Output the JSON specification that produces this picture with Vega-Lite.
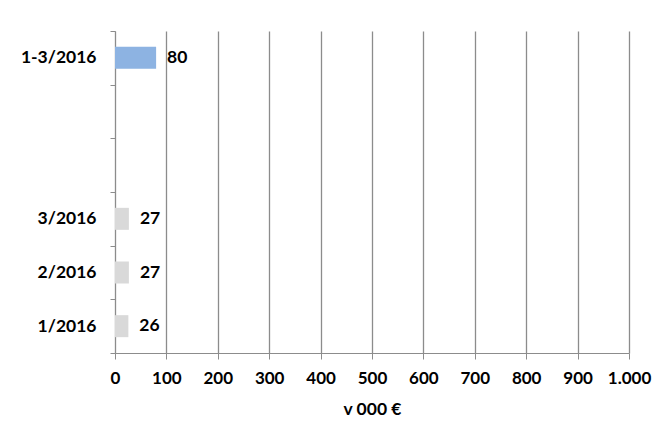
{
  "$schema": "https://vega.github.io/schema/vega-lite/v6.json",
  "autosize": "none",
  "padding": {"left": 115, "top": 31, "right": 40, "bottom": 88},
  "width": 514,
  "height": 322,
  "background": "white",
  "config": {
    "view": {"stroke": null},
    "font": "Lato"
  },
  "data": {
    "values": [
      {"period": "1-3/2016", "value": 80, "kind": "total"},
      {"period": "3/2016", "value": 27, "kind": "month"},
      {"period": "2/2016", "value": 27, "kind": "month"},
      {"period": "1/2016", "value": 26, "kind": "month"}
    ]
  },
  "encoding": {
    "y": {
      "field": "period",
      "type": "nominal",
      "scale": {"domain": ["1-3/2016", " ", "  ", "3/2016", "2/2016", "1/2016"], "padding": 0},
      "axis": {
        "title": null,
        "tickBand": "extent",
        "tickSize": 5,
        "tickColor": "#8c8c8c",
        "domainColor": "#8c8c8c",
        "labelPadding": 14,
        "labelFont": "Lato",
        "labelFontSize": 17.5,
        "labelFontWeight": "bold",
        "labelColor": "#000000",
        "grid": false
      }
    },
    "x": {
      "field": "value",
      "type": "quantitative",
      "scale": {"domain": [0, 1000], "nice": false},
      "axis": {
        "title": "v 000 €",
        "titleFont": "Lato",
        "titleFontSize": 17.5,
        "titleFontWeight": "bold",
        "titleColor": "#000000",
        "titlePadding": 14,
        "values": [0, 100, 200, 300, 400, 500, 600, 700, 800, 900, 1000],
        "labelExpr": "datum.value == 1000 ? '1.000' : datum.label",
        "labelOverlap": false,
        "labelFlush": false,
        "labelFont": "Lato",
        "labelFontSize": 17,
        "labelFontWeight": "bold",
        "labelColor": "#000000",
        "labelPadding": 11,
        "tickSize": 6,
        "tickColor": "#8c8c8c",
        "domainColor": "#8c8c8c",
        "grid": true,
        "gridColor": "#8c8c8c",
        "gridWidth": 1.3
      }
    }
  },
  "layer": [
    {
      "mark": {"type": "bar", "size": 22},
      "encoding": {
        "color": {
          "field": "kind",
          "type": "nominal",
          "scale": {"domain": ["total", "month"], "range": ["#8db3e2", "#d9d9d9"]},
          "legend": null
        }
      }
    },
    {
      "mark": {"type": "text", "align": "left", "baseline": "middle", "dx": 11, "font": "Lato", "fontSize": 17.5, "fontWeight": "bold", "color": "#000000"},
      "encoding": {
        "text": {"field": "value", "type": "quantitative"}
      }
    }
  ]
}
